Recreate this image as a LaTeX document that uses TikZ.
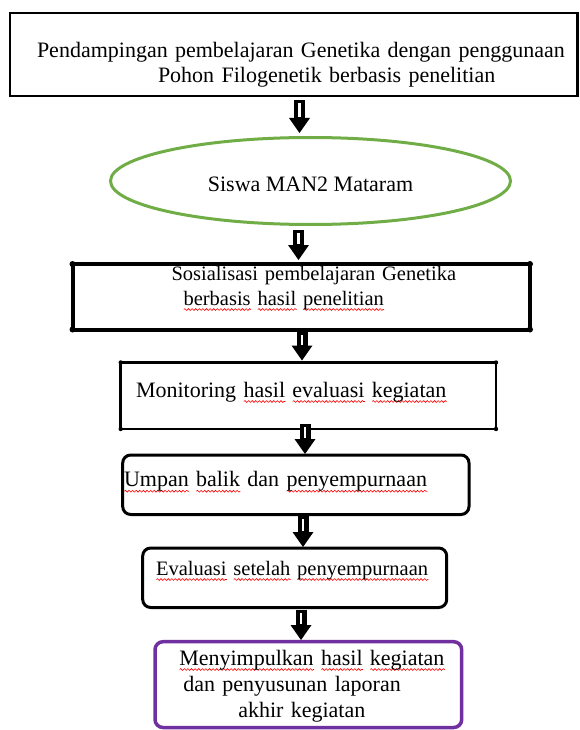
\documentclass[tikz,border=0pt]{standalone}
\usepackage{fontspec}
\setmainfont{Liberation Serif}
\usepackage{xcolor}
\usepackage{tikz}
\usetikzlibrary{shapes.geometric, arrows.meta, positioning, decorations.pathmorphing}
\definecolor{ovalgreen}{RGB}{112,173,71}
\definecolor{endpurple}{RGB}{112,48,160}
\newdimen\typowd
\newcommand{\typo}[1]{\setbox0\hbox{#1}\typowd=\wd0\rlap{\tikz[baseline=0pt]\draw[red, line width=0.6pt, sharp corners, decorate, decoration={snake, amplitude=0.9pt, segment length=3.6pt}] (0pt,-4.5pt) -- (\typowd,-4.5pt);}\box0\relax}
\tikzstyle{block} = [rectangle, draw=black, line width=2.5pt, inner sep=0pt, outer sep=0pt, align=left]
\tikzstyle{heavyblock} = [block, line width=4pt, font=\fontsize{20.5}{25}\selectfont]
\tikzstyle{roundblock} = [block, rounded corners=8pt, line width=3pt]
\tikzstyle{oval} = [ellipse, draw=ovalgreen, line width=3pt, inner sep=0pt, outer sep=0pt]
\tikzstyle{arrow} = [line width=11pt, -{Triangle[length=15pt, width=21pt, line width=0pt]}, postaction={draw=white, line width=2.6pt, arrows=-, shorten <=3pt, shorten >=16pt}]

\begin{document}
\begin{tikzpicture}[x=1pt, y=-1pt, font=\fontsize{22}{24.5}\selectfont]
        \useasboundingbox (0,0) rectangle (579,730);
        \node[block, text width=567.5pt, text height=45pt, text depth=38pt] (start) at (293.75,54.5) {\hspace*{27pt}Pendampingan pembelajaran Genetika dengan penggunaan\\\hspace*{148pt}Pohon Filogenetik berbasis penelitian};
        \node[oval, minimum width=400pt, minimum height=87pt, text height=21pt, text depth=0pt] (siswa) at (310.5,181) {Siswa MAN2 Mataram};
        \node[heavyblock, text width=457.5pt, text height=16pt, text depth=49.5pt] (sosial) at (301.25,296.75) {\hspace*{99pt}Sosialisasi pembelajaran Genetika\\\hspace*{111pt}\typo{berbasis} \typo{hasil} \typo{penelitian}};
        \node[block, text width=375.3pt, text height=34.5pt, text depth=32pt] (monitor) at (308.35,395.75) {\hspace*{15.3pt}Monitoring \typo{hasil} \typo{evaluasi} \typo{kegiatan}};
        \node[roundblock, text width=346.3pt, text height=31.7pt, text depth=27.8pt] (umpan) at (295.85,484.75) {\hspace*{1.3pt}\typo{Umpan} \typo{balik} dan \typo{penyempurnaan}};
        \node[roundblock, font=\fontsize{20.5}{25}\selectfont, text width=304pt, text height=27pt, text depth=32.5pt] (evaluasi) at (294.7,577.75) {\hspace*{13.3pt}\typo{Evaluasi} \typo{setelah} \typo{penyempurnaan}};
        \node[roundblock, draw=endpurple, line width=3.5pt, font=\fontsize{22}{26}\selectfont, text width=306.7pt, text height=23.3pt, text depth=62.5pt] (laporan) at (308.35,684.6) {\hspace*{24.3pt}\typo{Menyimpulkan} \typo{hasil} \typo{kegiatan}\\\hspace*{28.3pt}dan penyusunan laporan\\\hspace*{83.3pt}akhir kegiatan};

        \foreach \c in {north west, north east, south west, south east} {
            \fill (sosial.\c) circle (3pt);
            \fill (monitor.\c) circle (2.2pt);
        }

        \draw[arrow] ([xshift=5.75pt, yshift=-4pt]start.south) -- ([xshift=-11pt, yshift=4.5pt]siswa.north);
        \draw[arrow] ([xshift=-12pt, yshift=-5.5pt]siswa.south) -- ([xshift=-2.75pt, yshift=4pt]sosial.north);
        \draw[arrow] ([xshift=0.75pt, yshift=-2.5pt]sosial.south) -- ([xshift=-6.35pt, yshift=2pt]monitor.north);
        \draw[arrow] ([xshift=-3.35pt, yshift=5pt]monitor.south) -- ([xshift=9.15pt, yshift=1pt]umpan.north);
        \draw[arrow] ([xshift=7.15pt, yshift=-1.5pt]umpan.south) -- ([xshift=8.3pt, yshift=1pt]evaluasi.north);
        \draw[arrow] ([xshift=6.3pt, yshift=-2.5pt]evaluasi.south) -- ([xshift=-7.35pt, yshift=1.7pt]laporan.north);
    \end{tikzpicture}
\end{document}
